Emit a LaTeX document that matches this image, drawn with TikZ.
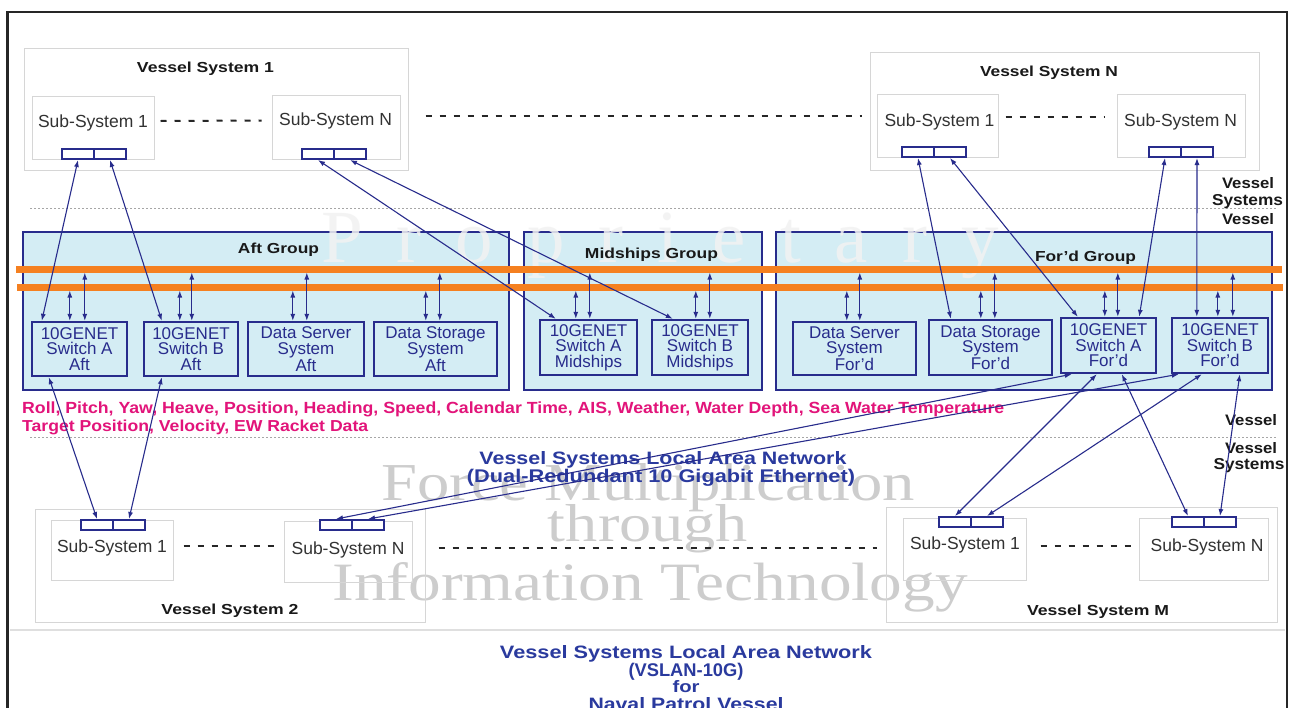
\documentclass[tikz,border=0pt]{standalone}
\usepackage{fontspec}
\setmainfont{Liberation Sans}
\newfontfamily\wmfont{Liberation Serif}
\usepackage{graphicx}
\usetikzlibrary{arrows.meta,calc}
\definecolor{navy}{RGB}{40,44,140}
\definecolor{cyanfill}{RGB}{212,237,244}
\definecolor{busorange}{RGB}{245,128,32}
\definecolor{pinktxt}{RGB}{226,20,122}
\definecolor{bluetxt}{RGB}{42,58,158}
\definecolor{boxgray}{RGB}{214,214,214}
\definecolor{wmgray}{RGB}{205,205,205}
\definecolor{wmlight}{RGB}{242,242,242}
\definecolor{txtgray}{RGB}{50,50,50}
\newcommand\rb[3]{\resizebox{#1pt}{#2pt}{#3}}
\begin{document}
\begin{tikzpicture}[x=1pt,y=-1pt,
  gbox/.style={draw=boxgray,line width=1pt,inner sep=0pt},
  grp/.style={draw=navy,fill=cyanfill,line width=2.4pt,inner sep=0pt},
  ibox/.style={draw=navy,fill=cyanfill,line width=2.4pt,inner sep=0pt,align=center,text=navy,font=\fontsize{17}{15.5}\selectfont},
  portbox/.style={draw=navy,fill=white,line width=2pt,minimum width=32pt,minimum height=10pt,inner sep=0pt},
  conn/.style={navy,line width=1.1pt,{Latex[length=7pt,width=5pt]}-{Latex[length=7pt,width=5pt]}},
  busln/.style={busorange,line width=7pt},
  subtxt/.style={anchor=base,inner sep=0pt,text=txtgray,font=\fontsize{17.5}{20}\selectfont},
  ttl/.style={anchor=base,inner sep=0pt,text=black!90},
  dotln/.style={gray!70,line width=1pt,dash pattern=on 1.5pt off 2.5pt},
  dsh/.style={black!85,line width=2pt,dash pattern=on 6pt off 8pt},
  wm/.style={anchor=base,inner sep=0pt,text=wmgray,font=\wmfont},
]
\useasboundingbox (0,0) rectangle (1297,707);
\clip (0,0) rectangle (1297,707);
\fill[white] (0,0) rectangle (1297,707);

% lower watermark
\node[wm] (wm1) at (648,500) {\rb{533}{37}{Force Multiplication}};
\node[wm] (wm2) at (648,541) {\rb{200}{37}{through}};
\node[wm] (wm3) at (650,600) {\rb{635}{38}{Information Technology}};

% frame and separator
\draw[line width=2.5pt,black!85] (7.5,12) rectangle (1287,730);
\draw[gray!25,line width=1.2pt] (10,630) -- (1285,630);

% vessel systems (top)
\node[gbox,minimum width=384pt,minimum height=122pt] (vs1) at (216,109) {};
\node[gbox,minimum width=122pt,minimum height=63pt] (v1s1) at (93,127.5) {};
\node[gbox,minimum width=128pt,minimum height=64pt] (v1sn) at (336,127) {};
\node[gbox,minimum width=389pt,minimum height=118pt] (vsn) at (1064.5,111) {};
\node[gbox,minimum width=121pt,minimum height=63pt] (vns1) at (937.5,125.5) {};
\node[gbox,minimum width=128pt,minimum height=63pt] (vnsn) at (1181,125.5) {};
% vessel systems (bottom)
\node[gbox,minimum width=390pt,minimum height=113pt] (vs2) at (230,565.5) {};
\node[gbox,minimum width=122pt,minimum height=60pt] (v2s1) at (112,550) {};
\node[gbox,minimum width=128pt,minimum height=61pt] (v2sn) at (348,551.5) {};
\node[gbox,minimum width=391pt,minimum height=115pt] (vsm) at (1081.5,564.5) {};
\node[gbox,minimum width=123pt,minimum height=62pt] (vms1) at (964.5,549) {};
\node[gbox,minimum width=129pt,minimum height=62pt] (vmsn) at (1203.5,549) {};

\node[ttl] (vt1) at (205.5,72) {\rb{137}{10.5}{\bfseries Vessel System 1}};
\node[ttl] (vtn) at (1049,76) {\rb{138}{10.5}{\bfseries Vessel System N}};
\node[ttl] (vt2) at (230,614) {\rb{137}{10.5}{\bfseries Vessel System 2}};
\node[ttl] (vtm) at (1098,615) {\rb{142}{10.5}{\bfseries Vessel System M}};

\node[subtxt] (s1t) at (93,127) {Sub-System 1};
\node[subtxt] (s2t) at (335.5,125) {Sub-System N};
\node[subtxt] (s3t) at (939.5,126) {Sub-System 1};
\node[subtxt] (s4t) at (1180.5,126) {Sub-System N};
\node[subtxt] (s5t) at (112,552) {Sub-System 1};
\node[subtxt] (s6t) at (348,554) {Sub-System N};
\node[subtxt] (s7t) at (965,549) {Sub-System 1};
\node[subtxt] (s8t) at (1207,551) {Sub-System N};

\draw[dsh] ([shift={(6,-6.5)}]v1s1.east) -- ([shift={(-10,-6.5)}]v1sn.west);
\draw[dsh] ([shift={(25,-11)}]v1sn.east) -- ([shift={(-15,-9.5)}]vns1.west);
\draw[dsh] ([shift={(7,-8.5)}]vns1.east) -- ([shift={(-12,-8.5)}]vnsn.west);
\draw[dsh] ([shift={(10,-4)}]v2s1.east) -- ([shift={(-8,-5.5)}]v2sn.west);
\draw[dsh] ([shift={(26,-3.5)}]v2sn.east) -- ([shift={(-26,-1)}]vms1.west);
\draw[dsh] ([shift={(14,-3)}]vms1.east) -- ([shift={(-6,-3)}]vmsn.west);

% dotted boundaries and labels
\draw[dotln] (30,208) -- (1278,208);
\draw[dotln] (30,437) -- (1278,437);
\node[ttl] (lb1) at (1248,188) {\rb{52}{11}{\bfseries Vessel}};
\node[ttl] (lb2) at (1247.5,205) {\rb{71}{11}{\bfseries Systems}};
\node[ttl] (lb3) at (1248,224) {\rb{52}{11}{\bfseries Vessel}};
\node[ttl] (lb4) at (1251,425) {\rb{52}{11}{\bfseries Vessel}};
\node[ttl] (lb5) at (1251,453) {\rb{52}{11}{\bfseries Vessel}};
\node[ttl] (lb6) at (1249,469) {\rb{71}{11}{\bfseries Systems}};

% groups
\node[grp,minimum width=486pt,minimum height=158pt] (aft) at (266,311) {};
\node[grp,minimum width=238pt,minimum height=158pt] (mid) at (643,311) {};
\node[grp,minimum width=496pt,minimum height=158pt] (fwd) at (1024,311) {};

% faint watermark over groups
\node[anchor=base,inner sep=0pt,text=wmlight,opacity=0.85,font=\wmfont\fontsize{75}{75}\selectfont] (wm0) at (660,262)
  {P\hspace{34pt}r\hspace{34pt}o\hspace{34pt}p\hspace{34pt}r\hspace{34pt}i\hspace{34pt}e\hspace{34pt}t\hspace{34pt}a\hspace{34pt}r\hspace{34pt}y};

\node[ttl] (gt1) at (278.5,253) {\rb{81}{10.5}{\bfseries Aft Group}};
\node[ttl] (gt2) at (651.5,258) {\rb{133}{10.5}{\bfseries Midships Group}};
\node[ttl] (gt3) at (1085.5,261) {\rb{101}{10.5}{\bfseries For'd Group}};

% buses
\draw[busln] (16,269) -- (1282,269);
\draw[busln] (17,287) -- (1283,287);
\coordinate (busU) at (0,272.5);
\coordinate (busL) at (0,290.5);

% inner boxes
\node[ibox,minimum width=95pt,minimum height=54pt] (swaA) at (79.5,349) {10GENET\\Switch A\\Aft};
\node[ibox,minimum width=94pt,minimum height=54pt] (swbA) at (191,349) {10GENET\\Switch B\\Aft};
\node[ibox,minimum width=116pt,minimum height=54pt] (dsA) at (306,349) {Data Server\\System\\Aft};
\node[ibox,minimum width=123pt,minimum height=54pt] (dstA) at (435.5,349) {Data Storage\\System\\Aft};
\node[ibox,minimum width=97pt,minimum height=55pt] (swaM) at (588.5,347.5) {10GENET\\Switch A\\Midships};
\node[ibox,minimum width=96pt,minimum height=55pt] (swbM) at (700,347.5) {10GENET\\Switch B\\Midships};
\node[ibox,minimum width=123pt,minimum height=53pt] (dsF) at (854.5,348.5) {Data Server\\System\\For'd};
\node[ibox,minimum width=123pt,minimum height=55pt] (dstF) at (990.5,347.5) {Data Storage\\System\\For'd};
\node[ibox,minimum width=95pt,minimum height=55pt] (swaF) at (1108.5,345.5) {10GENET\\Switch A\\For'd};
\node[ibox,minimum width=96pt,minimum height=55pt] (swbF) at (1220,345.5) {10GENET\\Switch B\\For'd};

% bus arrows
\newcommand\busarrows[3]{%
  \draw[conn] ([xshift=#2pt]#1.north west) -- ([xshift=#2pt]#1.north west |- busL);
  \draw[conn] ([xshift=#3pt]#1.north west) -- ([xshift=#3pt]#1.north west |- busU);}
\busarrows{swaA}{39}{54}
\busarrows{swbA}{37}{49}
\busarrows{dsA}{46}{60}
\busarrows{dstA}{53}{67}
\busarrows{swaM}{37}{51}
\busarrows{swbM}{45}{59}
\busarrows{dsF}{55}{68}
\busarrows{dstF}{53}{67}
\busarrows{swaF}{45}{58}
\busarrows{swbF}{47}{62}

% data texts
\node[anchor=base west,inner sep=0pt,text=pinktxt] (pk1) at (22,413) {\rb{982}{11.7}{\bfseries Roll, Pitch, Yaw, Heave, Position, Heading, Speed, Calendar Time, AIS, Weather, Water Depth, Sea Water Temperature}};
\node[anchor=base west,inner sep=0pt,text=pinktxt] (pk2) at (22,431) {\rb{346}{11.5}{\bfseries Target Position, Velocity, EW Racket Data}};
\node[anchor=base,inner sep=0pt,text=bluetxt] (lan1) at (663,464) {\rb{367}{13}{\bfseries Vessel Systems Local Area Network}};
\node[anchor=base,inner sep=0pt,text=bluetxt] (lan2) at (661,482) {\rb{388}{13.3}{\bfseries (Dual-Redundant 10 Gigabit Ethernet)}};
\node[anchor=base,inner sep=0pt,text=bluetxt] (bt1) at (686,658) {\rb{372}{13}{\bfseries Vessel Systems Local Area Network}};
\node[anchor=base,inner sep=0pt,text=bluetxt] (bt2) at (686,676) {\rb{115}{13.3}{\bfseries (VSLAN-10G)}};
\node[anchor=base,inner sep=0pt,text=bluetxt] (bt3) at (686,692) {\rb{27}{12}{\bfseries for}};
\node[anchor=base,inner sep=0pt,text=bluetxt] (bt4) at (686,710) {\rb{195}{13}{\bfseries Naval Patrol Vessel}};

% ports
\node[portbox] (v1aL) at (78,154) {};  \node[portbox] (v1aR) at (110,154) {};
\node[portbox] (v1nL) at (318,154) {}; \node[portbox] (v1nR) at (350,154) {};
\node[portbox] (vnaL) at (918,152) {}; \node[portbox] (vnaR) at (950,152) {};
\node[portbox] (vnnL) at (1165,152) {}; \node[portbox] (vnnR) at (1197,152) {};
\node[portbox] (v2aL) at (97,525) {};  \node[portbox] (v2aR) at (129,525) {};
\node[portbox] (v2nL) at (336,525) {}; \node[portbox] (v2nR) at (368,525) {};
\node[portbox] (vmaL) at (955,522) {}; \node[portbox] (vmaR) at (987,522) {};
\node[portbox] (vmnL) at (1188,522) {}; \node[portbox] (vmnR) at (1220,522) {};

% connectors to upper vessel systems
\draw[conn] (v1aL.south) -- ([xshift=11pt]swaA.north west);
\draw[conn] (v1aR.south) -- ([xshift=19pt]swbA.north west);
\draw[conn] (v1nL.south) -- ([xshift=17pt]swaM.north west);
\draw[conn] (v1nR.south) -- ([xshift=22pt]swbM.north west);
\draw[conn] (vnaL.south) -- ([xshift=23pt]dstF.north west);
\draw[conn] (vnaR.south) -- ([xshift=18pt]swaF.north west);
\draw[conn] (vnnL.south) -- ([xshift=-18pt]swaF.north east);
\draw[conn] (vnnR.south) -- ([xshift=26pt]swbF.north west);
% connectors to lower vessel systems
\draw[conn] ([xshift=18pt]swaA.south west) -- (v2aL.north);
\draw[conn] ([xshift=19pt]swbA.south west) -- (v2aR.north);
\draw[conn] ([xshift=12pt]swaF.south west) -- (v2nL.north);
\draw[conn] ([xshift=8pt]swbF.south west) -- (v2nR.north);
\draw[conn] ([xshift=37pt]swaF.south west) -- (vmaL.north);
\draw[conn] ([xshift=31pt]swbF.south west) -- (vmaR.north);
\draw[conn] ([xshift=62pt]swaF.south west) -- (vmnL.north);
\draw[conn] ([xshift=69pt]swbF.south west) -- (vmnR.north);
\end{tikzpicture}
\end{document}
